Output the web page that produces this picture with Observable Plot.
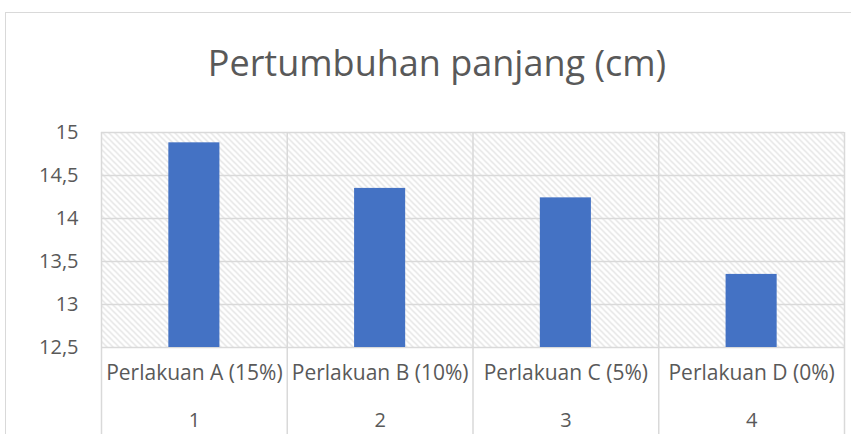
<!DOCTYPE html>
<html>
<head>
<meta charset="utf-8">
<script src="https://cdn.jsdelivr.net/npm/d3@7"></script>
<script src="https://cdn.jsdelivr.net/npm/@observablehq/plot@0.6"></script>
<style>
  html, body { margin: 0; padding: 0; background: #fff; overflow: hidden; width: 851px; height: 434px; }
  #wrap { position: relative; width: 851px; height: 434px; font-family: "Open Sans", sans-serif; }
  #frame { position: absolute; left: 5px; top: 12px; width: 900px; height: 500px; border: 1.5px solid #d9d9d9; box-sizing: border-box; }
  #title { position: absolute; left: 0; width: 874px; top: 39px; text-align: center; font-size: 36px; line-height: 48px; color: #595959; }
  #chart { position: absolute; left: 0; top: 0; }
</style>
</head>
<body>
<div id="wrap">
  <div id="frame"></div>
  <div id="chart"></div>
  <div id="title">Pertumbuhan panjang (cm)</div>
</div>
<script>
const categories = ["Perlakuan A (15%)", "Perlakuan B (10%)", "Perlakuan C (5%)", "Perlakuan D (0%)"];
const numbers = ["1", "2", "3", "4"];
const values = [14.88, 14.35, 14.24, 13.35];
const yTicks = [12.5, 13, 13.5, 14, 14.5, 15];

const data = categories.map((c, i) => ({cat: c, num: numbers[i], idx: i + 1, value: values[i]}));
const bounds = d3.range(categories.length + 1).map(i => i + 0.5);
const halfBar = 0.1375;
const gridColor = "#d9d9d9";
const textColor = "#595959";

const plot = Plot.plot({
  width: 851,
  height: 434,
  marginTop: 132,
  marginBottom: 87,
  marginLeft: 101,
  marginRight: 7,
  style: {fontFamily: "'Open Sans', sans-serif", background: "transparent", overflow: "visible"},
  x: {domain: [0.5, categories.length + 0.5], axis: null},
  y: {domain: [12.5, 15], axis: null},
  marks: [
    Plot.frame({fill: "url(#hatch)", stroke: null}),
    Plot.ruleY(yTicks, {stroke: gridColor, strokeWidth: 1.5}),
    Plot.ruleX(bounds, {stroke: gridColor, strokeWidth: 1.5, insetBottom: -87}),
    Plot.rectY(data, {x1: d => d.idx - halfBar, x2: d => d.idx + halfBar, y1: 12.5, y2: "value", fill: "#4472c4"}),
    Plot.axisY(yTicks, {tickSize: 0, tickPadding: 23, fontSize: 20, fill: textColor, tickFormat: d => String(d).replace(".", ","), label: null}),
    Plot.text(data, {x: "idx", text: "cat", frameAnchor: "bottom", dy: 32, fontSize: 21, fill: textColor}),
    Plot.text(data, {x: "idx", text: "num", frameAnchor: "bottom", dy: 79, fontSize: 20, fill: textColor})
  ]
});

const svg = d3.select(plot);
const defs = svg.insert("defs", ":first-child");
const pat = defs.append("pattern").attr("id", "hatch").attr("patternUnits", "userSpaceOnUse")
  .attr("width", 6).attr("height", 6);
pat.append("rect").attr("width", 6).attr("height", 6).attr("fill", "#fff");
pat.append("path").attr("d", "M0,0L6,6M-1,5L1,7M5,-1L7,1")
  .attr("stroke", "#dcdcdc").attr("stroke-width", 1.2);

document.getElementById("chart").appendChild(plot);
</script>
</body>
</html>
